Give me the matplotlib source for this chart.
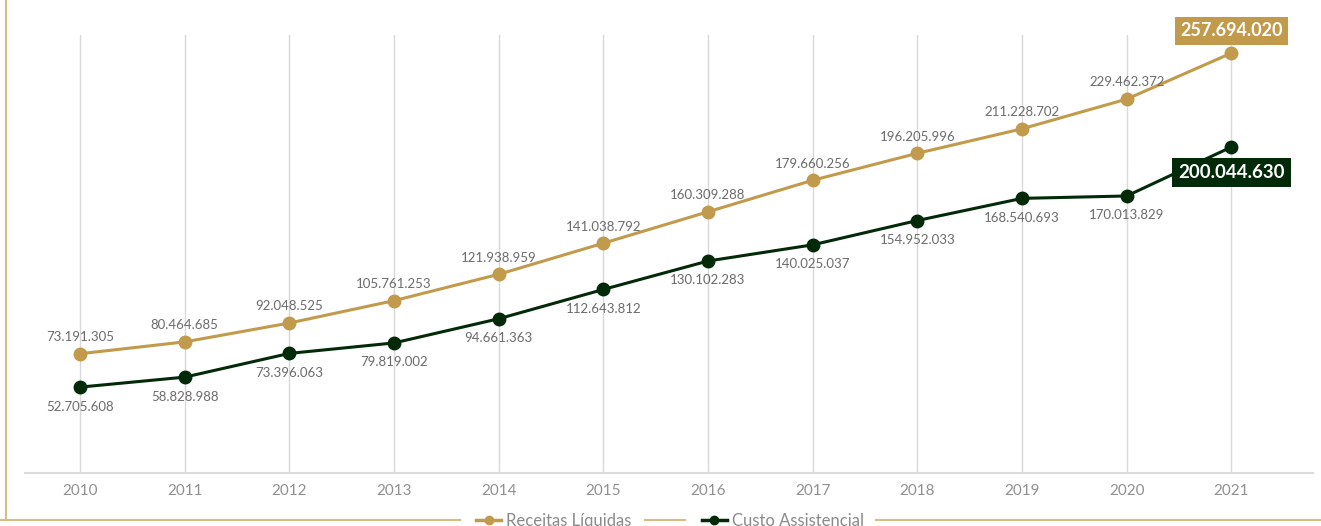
import matplotlib.pyplot as plt
from matplotlib.lines import Line2D

anos = [2010, 2011, 2012, 2013, 2014, 2015, 2016, 2017, 2018, 2019, 2020, 2021]
receitas = [73191305, 80464685, 92048525, 105761253, 121938959, 141038792,
            160309288, 179660256, 196205996, 211228702, 229462372, 257694020]
custo = [52705608, 58828988, 73396063, 79819002, 94661363, 112643812,
         130102283, 140025037, 154952033, 168540693, 170013829, 200044630]

OURO = "#C19A4B"
VERDE = "#022A08"
CINZA = "#6b6b6b"
MOLDURA = "#D8BC84"

plt.rcParams["font.family"] = ["Lato", "DejaVu Sans"]


def fmt(v):
    return f"{v:,}".replace(",", ".")


fig = plt.figure(figsize=(13.21, 5.26), dpi=100)
ax = fig.add_axes([25 / 1321, 53 / 526, 1288 / 1321, 438 / 526])

ax.plot(anos, receitas, color=OURO, lw=2.2, marker="o", ms=9, zorder=3)
ax.plot(anos, custo, color=VERDE, lw=2.2, marker="o", ms=9, zorder=3)

ax.set_xlim(2009.474, 2021.78)
ax.set_ylim(0, 268.8e6)
ax.set_xticks(anos)
ax.set_xticklabels([str(a) for a in anos], fontsize=11, color="#909090")
ax.set_yticks([])
ax.tick_params(axis="x", length=0, pad=8)
ax.grid(axis="x", color="#d8d8d8", lw=1)
ax.set_axisbelow(True)
for s in ["top", "left", "right"]:
    ax.spines[s].set_visible(False)
ax.spines["bottom"].set_color("#dcdcdc")
ax.spines["bottom"].set_linewidth(1.5)

# rótulos dos pontos
for i, ano in enumerate(anos[:-1]):
    ax.annotate(fmt(receitas[i]), (ano, receitas[i]), xytext=(0, 12),
                textcoords="offset points", ha="center", va="center",
                fontsize=9.5, color=CINZA, zorder=4)
    ax.annotate(fmt(custo[i]), (ano, custo[i]), xytext=(0, -14),
                textcoords="offset points", ha="center", va="center",
                fontsize=9.5, color=CINZA, zorder=4)

# destaque 2021
ax.annotate(fmt(receitas[-1]), (anos[-1], receitas[-1]), xytext=(0, 16),
            textcoords="offset points", ha="center", va="center",
            fontsize=13, fontweight="bold", color="white", zorder=5,
            bbox=dict(boxstyle="square,pad=0.3", fc=OURO, ec="none"),
            annotation_clip=False)
ax.annotate(fmt(custo[-1]), (anos[-1], custo[-1]), xytext=(0, -18),
            textcoords="offset points", ha="center", va="center",
            fontsize=13.5, fontweight="bold", color="white", zorder=5,
            bbox=dict(boxstyle="square,pad=0.32", fc=VERDE, ec="none"),
            annotation_clip=False)

# legenda
handles = [Line2D([], [], color=OURO, lw=2.5, marker="o", ms=6),
           Line2D([], [], color=VERDE, lw=2.5, marker="o", ms=6)]
fig.legend(handles, ["Receitas Líquidas", "Custo Assistencial"], loc="center",
           bbox_to_anchor=(670 / 1321, 5 / 526), ncol=2, frameon=False,
           fontsize=12, labelcolor="#8a8a8a", handlelength=1.5,
           handletextpad=0.3, columnspacing=4.2)

# moldura
for x0, x1 in [(0, 460), (645, 685), (876, 1321)]:
    fig.add_artist(Line2D([x0 / 1321, x1 / 1321], [6 / 526, 6 / 526],
                          color=MOLDURA, lw=1.5))
fig.add_artist(Line2D([6 / 1321, 6 / 1321], [6 / 526, 1], color=MOLDURA, lw=1.5))

fig.savefig("out.png", dpi=100)
